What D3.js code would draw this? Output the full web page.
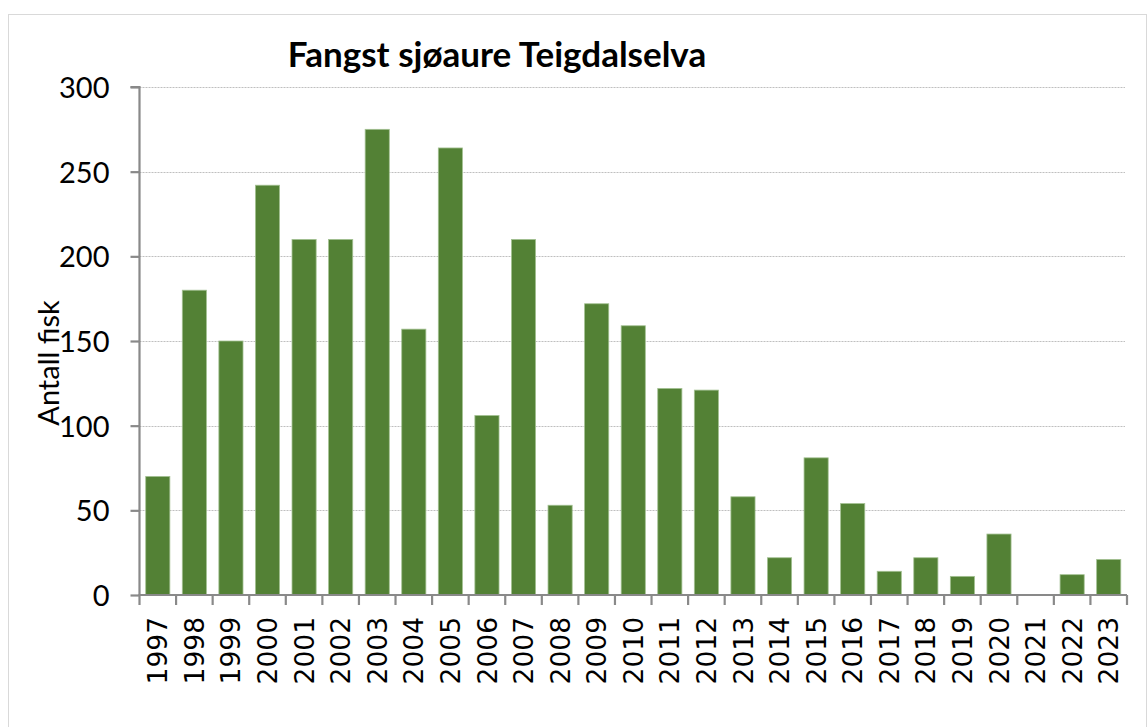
<!DOCTYPE html>
<html>
<head>
<meta charset="utf-8">
<script src="https://cdn.jsdelivr.net/npm/d3@7"></script>
<style>
html,body{margin:0;padding:0;background:#fff;}
svg{display:block;}
</style>
</head>
<body>
<svg id="chart" width="1147" height="727"></svg>
<script>
const years = ["1997","1998","1999","2000","2001","2002","2003","2004","2005","2006","2007","2008","2009","2010","2011","2012","2013","2014","2015","2016","2017","2018","2019","2020","2021","2022","2023"];
const catches = [70,180,150,242,210,210,275,157,264,106,210,53,172,159,122,121,58,22,81,54,14,22,11,36,0,12,21];
const yTicks = [0,50,100,150,200,250,300];
const titleText = "Fangst sjøaure Teigdalselva";
const yTitle = "Antall fisk";

const svg = d3.select("#chart");
const W = 1147, H = 727;
const m = {left:139.5, right:1127, top:87, bottom:595};

svg.append("rect").attr("x",8.5).attr("y",14.5).attr("width",1138).attr("height",740)
  .attr("fill","#fff").attr("stroke","#d9d9d9").attr("stroke-width",1);

const x = d3.scaleBand().domain(years).range([m.left, m.right]).paddingInner(0.34).paddingOuter(0.17);
const y = d3.scaleLinear().domain([0,300]).range([m.bottom, m.top]);

// gridlines
svg.append("g").selectAll("line").data(yTicks.filter(d=>d>0)).join("line")
  .attr("x1", m.left).attr("x2", m.right-2)
  .attr("y1", d=>Math.round(y(d))+0.5).attr("y2", d=>Math.round(y(d))+0.5)
  .attr("stroke","#bfbfbf").attr("stroke-width",1).attr("stroke-dasharray","2,1");

// bars
svg.append("g").selectAll("rect").data(years).join("rect")
  .attr("x", (d)=>x(d))
  .attr("y", (d,i)=>y(catches[i]))
  .attr("width", x.bandwidth())
  .attr("height", (d,i)=>m.bottom - y(catches[i]))
  .attr("fill","#538135")
  .attr("stroke", (d,i)=>catches[i]>0 ? "#a3c192" : "none")
  .attr("stroke-width",0.8);

// y axis
const yAxis = d3.axisLeft(y).tickValues(yTicks).tickSize(9).tickPadding(21).tickFormat(d3.format("d"));
const gy = svg.append("g").attr("transform",`translate(${m.left},0)`).call(yAxis);
gy.select(".domain").attr("stroke","#898989").attr("stroke-width",2.2).attr("d",`M-9,${m.top}H0V${m.bottom}`);
gy.selectAll(".tick line").attr("stroke","#898989").attr("stroke-width",2.2);
gy.selectAll(".tick text").attr("font-family","Lato, 'Liberation Sans', sans-serif").attr("font-size",29).attr("fill","#000").attr("dy","0.36em");

// x axis
const gx = svg.append("g").attr("transform",`translate(0,${m.bottom})`);
gx.append("line").attr("x1",m.left-1).attr("x2",m.right).attr("y1",0).attr("y2",0)
  .attr("stroke","#898989").attr("stroke-width",2.2);
const bounds = years.map(d=>x(d) - x.step()*x.paddingInner()/2).concat([m.right]);
gx.selectAll("line.t").data(bounds).join("line").attr("class","t")
  .attr("x1",d=>d).attr("x2",d=>d).attr("y1",0).attr("y2",10)
  .attr("stroke","#898989").attr("stroke-width",2.2);
gx.selectAll("text").data(years).join("text")
  .attr("transform", d=>`translate(${x(d)+x.bandwidth()/2},${22}) rotate(-90)`)
  .attr("text-anchor","end").attr("dy","0.36em")
  .attr("font-family","'DejaVu Sans', sans-serif").attr("font-size",26.5).attr("fill","#000")
  .text(d=>d);

// title
svg.append("text").attr("x",497).attr("y",67).attr("text-anchor","middle")
  .attr("font-family","Lato, 'Liberation Sans', sans-serif").attr("font-weight","bold").attr("font-size",35)
  .attr("fill","#000").text(titleText);

// y title
svg.append("text").attr("transform","translate(59,363) rotate(-90)").attr("text-anchor","middle")
  .attr("font-family","Lato, 'Liberation Sans', sans-serif").attr("font-size",29).attr("fill","#000")
  .text(yTitle);
</script>
</body>
</html>
